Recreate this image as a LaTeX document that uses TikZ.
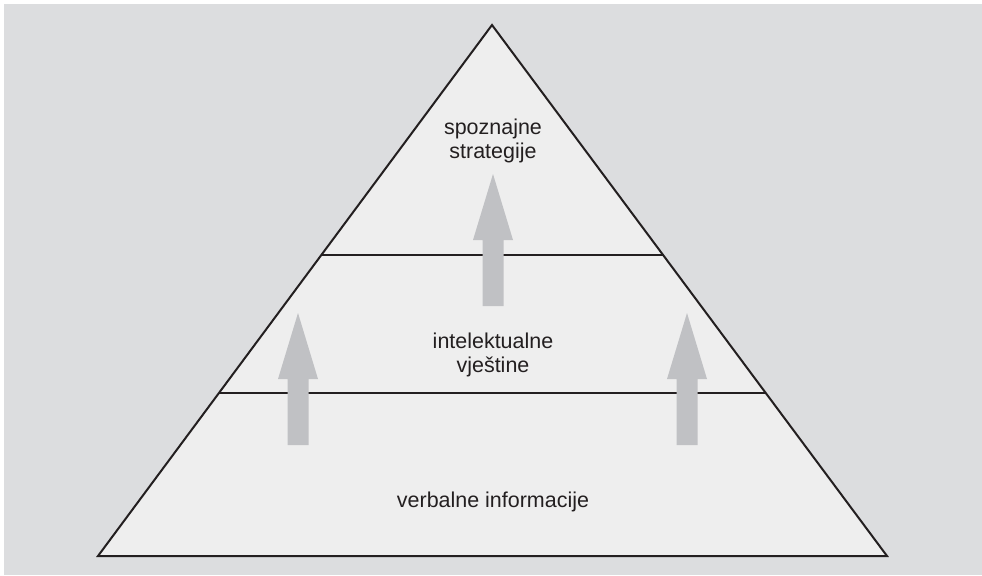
\documentclass[tikz,border=0pt]{standalone}
\usepackage{fontspec}
\setmainfont{Liberation Sans}
\usetikzlibrary{calc}
\definecolor{backgr}{HTML}{DCDDDF}
\definecolor{pyrfill}{HTML}{EEEEEE}
\definecolor{arrgray}{HTML}{C0C1C4}
\definecolor{inkline}{HTML}{231F20}
\tikzset{
  level/.style={text=inkline,align=center,anchor=base,inner sep=0pt,
    font=\fontsize{16.1}{18}\selectfont},
  edge/.style={draw=inkline,line width=1.5pt},
}
\begin{document}
\begin{tikzpicture}[x=0.75pt,y=-0.75pt]
\useasboundingbox (0,0) rectangle (982,575);
\fill[white] (0,0) rectangle (982,575);
\fill[backgr] (4,4) rectangle (982,575);
% pyramid corners
\coordinate (apex) at (492,25);
\coordinate (bl) at (98,556);
\coordinate (br) at (887,556);
\fill[pyrfill] (apex) -- (bl) -- (br) -- cycle;
\draw[edge,line join=miter] (apex) -- (bl) -- (br) -- cycle;
% dividers
\draw[edge] ($(apex)!0.434!(bl)$) -- ($(apex)!0.434!(br)$);
\draw[edge] ($(apex)!0.693!(bl)$) -- ($(apex)!0.693!(br)$);
%
\foreach \ax/\ay in {493/174,298/313,687/313}
\fill[arrgray] (\ax,\ay) -- ++(20,66) -- ++(-9.5,0) -- ++(0,66)
  -- ++(-21,0) -- ++(0,-66) -- ++(-9.5,0) -- cycle;
% labels (base = last line)
\node[level] (top) at (493,158) {spoznajne\\strategije};
\node[level] (mid) at (493,372) {intelektualne\\vještine};
\node[level] (low) at (493,507) {verbalne informacije};
\end{tikzpicture}
\end{document}
